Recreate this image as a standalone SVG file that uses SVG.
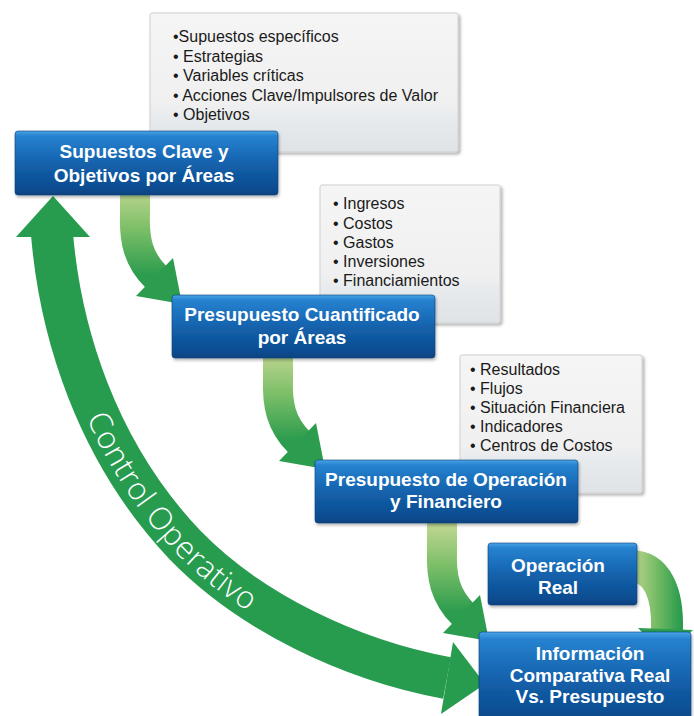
<svg xmlns="http://www.w3.org/2000/svg" xmlns:xlink="http://www.w3.org/1999/xlink" width="694" height="716" viewBox="0 0 694 716">
<defs>
<style>
.box{fill:url(#boxGrad);stroke:#cfcfcf;stroke-width:1;filter:url(#boxShadow)}
.btxt{font-family:"Liberation Sans",Arial,sans-serif;font-size:16px;fill:#1a1a1a}
.node{fill:url(#nodeGrad);stroke:#0a3f7a;stroke-width:0.6;filter:url(#nodeShadow)}
.ntxt{font-family:"Liberation Sans",Arial,sans-serif;font-size:19px;font-weight:bold;fill:#ffffff;text-anchor:middle}
.big{fill:none;stroke:#279c4f;stroke-width:42}
.bighead{fill:#279c4f}
.ctxt{font-family:"Open Sans","Liberation Sans",sans-serif;font-size:31px;font-weight:300;fill:#ffffff}
</style>
<linearGradient id="boxGrad" x1="0" y1="0" x2="0" y2="1">
<stop offset="0" stop-color="#f6f5f5"/>
<stop offset="0.65" stop-color="#f0f0f0"/>
<stop offset="0.75" stop-color="#e8ebee"/>
<stop offset="1" stop-color="#dfe3e6"/>
</linearGradient>
<linearGradient id="nodeGrad" x1="0" y1="0" x2="0" y2="1">
<stop offset="0" stop-color="#4aa3e6"/>
<stop offset="0.08" stop-color="#2682d0"/>
<stop offset="0.5" stop-color="#1462ad"/>
<stop offset="0.9" stop-color="#0c4c90"/>
<stop offset="1" stop-color="#0a4280"/>
</linearGradient>
<linearGradient id="shaftGrad" gradientUnits="userSpaceOnUse" x1="0" y1="-105" x2="0" y2="-20">
<stop offset="0" stop-color="#bcd58e"/>
<stop offset="0.45" stop-color="#7dbf68"/>
<stop offset="1" stop-color="#2c9c4e"/>
</linearGradient>
<linearGradient id="shaftGradD" gradientUnits="userSpaceOnUse" x1="637" y1="0" x2="680" y2="0">
<stop offset="0" stop-color="#b2d187"/>
<stop offset="0.5" stop-color="#6fb963"/>
<stop offset="1" stop-color="#2c9c4e"/>
</linearGradient>
<filter id="boxShadow" x="-5%" y="-5%" width="115%" height="115%">
<feDropShadow dx="2" dy="2" stdDeviation="1.5" flood-color="#000" flood-opacity="0.3"/>
</filter>
<filter id="nodeShadow" x="-5%" y="-5%" width="115%" height="120%">
<feDropShadow dx="1" dy="2" stdDeviation="1.5" flood-color="#000" flood-opacity="0.3"/>
</filter>
<g id="curveArrow">
<path d="M-37,-115 L-37,-82 C-38,-55 -34,-36 -16,-18" fill="none" stroke="url(#shaftGrad)" stroke-width="30"/>
<polygon points="-36,1 1,-37 10,9" fill="#2c9c4e"/>
</g>
<path id="coPath" d="M52,234 C60,330 95,450 185,545 C250,612 350,660 447,678"/>
</defs>

<g id="bullets1">
<rect class="box" x="150" y="13" width="308" height="139" rx="2"/>
<text class="btxt" x="173" y="42">•Supuestos específicos</text>
<text class="btxt" x="173" y="62">• Estrategias</text>
<text class="btxt" x="173" y="81">• Variables críticas</text>
<text class="btxt" x="173" y="101">• Acciones Clave/Impulsores de Valor</text>
<text class="btxt" x="173" y="120">• Objetivos</text>
</g>
<g id="bullets2">
<rect class="box" x="320" y="185" width="180" height="138" rx="2"/>
<text class="btxt" x="333" y="209">• Ingresos</text>
<text class="btxt" x="333" y="229">• Costos</text>
<text class="btxt" x="333" y="248">• Gastos</text>
<text class="btxt" x="333" y="267">• Inversiones</text>
<text class="btxt" x="333" y="286">• Financiamientos</text>
</g>
<g id="bullets3">
<rect class="box" x="460" y="355" width="182" height="138" rx="2"/>
<text class="btxt" x="470" y="375">• Resultados</text>
<text class="btxt" x="470" y="394">• Flujos</text>
<text class="btxt" x="470" y="413">• Situación Financiera</text>
<text class="btxt" x="470" y="432">• Indicadores</text>
<text class="btxt" x="470" y="451">• Centros de Costos</text>
</g>

<g id="connectors">
<g id="controlOperativo">
<use href="#coPath" class="big"/>
<polygon class="bighead" points="53,196 16,237 90,237"/>
<polygon class="bighead" points="453,642 441,714 485,684"/>
<text class="ctxt" dominant-baseline="central"><textPath href="#coPath" startOffset="310" text-anchor="middle">Control Operativo</textPath></text>
</g>
<use href="#curveArrow" transform="translate(172,295)"/>
<use href="#curveArrow" transform="translate(315,460)"/>
<use href="#curveArrow" transform="translate(479,632)"/>
<g id="arrowD">
<path d="M630,566 C658,566 668,594 667,630" fill="none" stroke="url(#shaftGradD)" stroke-width="32"/>
<polygon points="638,628 693,630 665,656" fill="#2c9c4e"/>
</g>
</g>

<g id="node1">
<rect class="node" x="15" y="131" width="263" height="64" rx="3"/>
<text class="ntxt" x="144" y="158">Supuestos Clave y</text>
<text class="ntxt" x="144" y="182">Objetivos por Áreas</text>
</g>
<g id="node2">
<rect class="node" x="172" y="295" width="263" height="63" rx="3"/>
<text class="ntxt" x="302" y="321">Presupuesto Cuantificado</text>
<text class="ntxt" x="302" y="344">por Áreas</text>
</g>
<g id="node3">
<rect class="node" x="315" y="460" width="263" height="63" rx="3"/>
<text class="ntxt" x="446" y="486">Presupuesto de Operación</text>
<text class="ntxt" x="446" y="508">y Financiero</text>
</g>
<g id="node4">
<rect class="node" x="488" y="543" width="149" height="62" rx="3"/>
<text class="ntxt" x="558" y="572">Operación</text>
<text class="ntxt" x="558" y="594">Real</text>
</g>
<g id="node5">
<rect class="node" x="479" y="632" width="212" height="92" rx="3"/>
<text class="ntxt" x="590" y="660">Información</text>
<text class="ntxt" x="590" y="682">Comparativa Real</text>
<text class="ntxt" x="590" y="703">Vs. Presupuesto</text>
</g>
</svg>
